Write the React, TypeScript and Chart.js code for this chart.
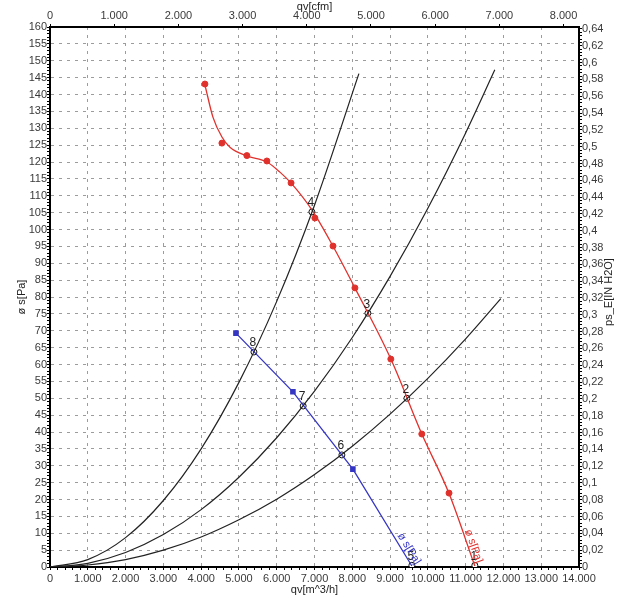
import React, { useEffect, useRef } from 'react';
import { Chart, registerables } from 'chart.js';

Chart.register(...registerables);

// ---------- axis ticks / labels ----------
const BOTTOM_TICKS = [0, 1000, 2000, 3000, 4000, 5000, 6000, 7000, 8000, 9000, 10000, 11000, 12000, 13000, 14000];
const BOTTOM_LABELS = ['0', '1.000', '2.000', '3.000', '4.000', '5.000', '6.000', '7.000', '8.000', '9.000', '10.000', '11.000', '12.000', '13.000', '14.000'];
const TOP_TICKS = [0, 1000, 2000, 3000, 4000, 5000, 6000, 7000, 8000];
const TOP_LABELS = ['0', '1.000', '2.000', '3.000', '4.000', '5.000', '6.000', '7.000', '8.000'];
const LEFT_TICKS = [0, 5, 10, 15, 20, 25, 30, 35, 40, 45, 50, 55, 60, 65, 70, 75, 80, 85, 90, 95, 100, 105, 110, 115, 120, 125, 130, 135, 140, 145, 150, 155, 160];
const RIGHT_LABELS = ['0', '0,02', '0,04', '0,06', '0,08', '0,1', '0,12', '0,14', '0,16', '0,18', '0,2', '0,22', '0,24', '0,26', '0,28', '0,3', '0,32', '0,34', '0,36', '0,38', '0,4', '0,42', '0,44', '0,46', '0,48', '0,5', '0,52', '0,54', '0,56', '0,58', '0,6', '0,62', '0,64'];

const M3H_PER_CFM = 1.699;
const PA_PER_INH2O = 249.089;
const Q_MAX = 14000;
const P_MAX = 160;

// ---------- fan curves ----------
const RED_CURVE_Q = [4101, 4312, 4550, 4762, 5212, 5741, 6085, 6376, 6931, 7487, 8069, 9021, 9841, 10556, 11243];
const RED_CURVE_P = [142.8, 133.3, 127.4, 124.4, 121.8, 120.0, 117.0, 113.8, 105.8, 95.1, 82.7, 61.6, 39.4, 21.9, 0.3];
const RED_MARK_Q = [4100, 4550, 5210, 5740, 6380, 7010, 7490, 8070, 9020, 9840, 10560];
const RED_MARK_P = [143.1, 125.6, 121.9, 120.3, 113.8, 103.4, 95.1, 82.7, 61.6, 39.4, 21.9];

const BLUE_Q = [4921, 6429, 8016, 9577];
const BLUE_P = [69.3, 51.9, 29.0, 0.3];

// ---------- system curves ----------
const SYS_A_Q = [0, 1000, 2000, 3000, 4000, 5000, 6000, 7000, 8175];
const SYS_A_P = [0, 2.2, 8.7, 19.7, 35.0, 54.7, 78.7, 107.2, 146.2];
const SYS_B_Q = [0, 1000, 2000, 3000, 4000, 5000, 6000, 7000, 8000, 9000, 10000, 11000, 11772];
const SYS_B_P = [0, 1.1, 4.3, 9.6, 17.0, 26.6, 38.3, 52.1, 68.0, 86.1, 106.3, 128.6, 147.3];
const SYS_C_Q = [0, 1000, 2000, 3000, 4000, 5000, 6000, 7000, 8000, 9000, 10000, 11000, 11931];
const SYS_C_P = [0, 0.6, 2.2, 5.0, 8.9, 14.0, 20.1, 27.4, 35.8, 45.3, 55.9, 67.6, 79.5];

// ---------- operating points ----------
const OP_LABELS = ['1', '2', '3', '4', '5', '6', '7', '8'];
const OP_Q = [11243, 9445, 8413, 6931, 9577, 7725, 6700, 5397];
const OP_P = [0.5, 50.0, 75.2, 105.2, 0.5, 33.2, 47.7, 63.7];

const RED = '#e0312c';
const BLUE = '#3636c4';
const FONT = '"Liberation Sans", Arial, sans-serif';

const pts = (q: number[], p: number[]) => q.map((v, i) => ({ x: v, y: p[i] }));

const overlayPlugin = {
  id: 'overlay',
  afterDatasetsDraw(chart: any) {
    const { ctx, chartArea, scales } = chart;
    const xs = scales.x;
    const ys = scales.y;
    ctx.save();
    // operating point numbers
    ctx.font = `12px ${FONT}`;
    ctx.fillStyle = '#222';
    ctx.textAlign = 'center';
    ctx.textBaseline = 'bottom';
    OP_LABELS.forEach((l, i) => {
      ctx.fillText(l, xs.getPixelForValue(OP_Q[i]) - 1, ys.getPixelForValue(OP_P[i]) - 3);
    });

    // labels along curves
    const along = (q: number[], p: number[], qa: number, pa: number, color: string, off: number) => {
      const n = q.length;
      const x1 = xs.getPixelForValue(q[n - 2]);
      const y1 = ys.getPixelForValue(p[n - 2]);
      const x2 = xs.getPixelForValue(q[n - 1]);
      const y2 = ys.getPixelForValue(p[n - 1]);
      const ang = Math.atan2(y2 - y1, x2 - x1);
      ctx.save();
      ctx.translate(xs.getPixelForValue(qa), ys.getPixelForValue(pa));
      ctx.rotate(ang);
      ctx.font = `11px ${FONT}`;
      ctx.fillStyle = color;
      ctx.textAlign = 'center';
      ctx.textBaseline = 'bottom';
      ctx.fillText('ø s[Pa]', 0, -off);
      ctx.restore();
    };
    along(BLUE_Q, BLUE_P, 9354, 4.4, BLUE, 1);
    along(RED_CURVE_Q, RED_CURVE_P, 11074, 5.6, RED, 0);

    // axis titles
    const cx = (chartArea.left + chartArea.right) / 2;
    const cy = (chartArea.top + chartArea.bottom) / 2;
    ctx.font = `11px ${FONT}`;
    ctx.fillStyle = '#222';
    ctx.textAlign = 'center';
    ctx.textBaseline = 'middle';
    ctx.fillText('qv[cfm]', cx, 7);
    ctx.fillText('qv[m^3/h]', cx, 590);
    ctx.save();
    ctx.translate(22, cy);
    ctx.rotate(-Math.PI / 2);
    ctx.fillText('ø s[Pa]', 0, 0);
    ctx.restore();
    ctx.save();
    ctx.translate(609, cy - 5);
    ctx.rotate(-Math.PI / 2);
    ctx.fillText('ps_E[IN H2O]', 0, 0);
    ctx.restore();
    ctx.restore();
  },
};

export default function App() {
  const ref = useRef<HTMLCanvasElement | null>(null);

  useEffect(() => {
    if (!ref.current) return;
    Chart.defaults.font.family = FONT;
    const GRID = '#9c9c9c';
    const tickFont = { size: 11, family: FONT };

    const chart = new Chart(ref.current, {
      type: 'scatter',
      data: {
        datasets: [
          { data: pts(SYS_A_Q, SYS_A_P), showLine: true, borderColor: '#222', borderWidth: 1.2, pointRadius: 0, cubicInterpolationMode: 'monotone', xAxisID: 'x', yAxisID: 'y' },
          { data: pts(SYS_B_Q, SYS_B_P), showLine: true, borderColor: '#222', borderWidth: 1.2, pointRadius: 0, cubicInterpolationMode: 'monotone', xAxisID: 'x', yAxisID: 'y' },
          { data: pts(SYS_C_Q, SYS_C_P), showLine: true, borderColor: '#222', borderWidth: 1.2, pointRadius: 0, cubicInterpolationMode: 'monotone', xAxisID: 'x', yAxisID: 'y' },
          { data: pts(RED_CURVE_Q, RED_CURVE_P), showLine: true, borderColor: RED, borderWidth: 1.3, pointRadius: 0, cubicInterpolationMode: 'monotone', xAxisID: 'x', yAxisID: 'y' },
          { data: pts(RED_MARK_Q, RED_MARK_P), showLine: false, pointStyle: 'circle', pointRadius: 3, backgroundColor: RED, borderColor: RED, borderWidth: 1, xAxisID: 'x', yAxisID: 'y' },
          { data: pts(BLUE_Q, BLUE_P), showLine: true, borderColor: BLUE, borderWidth: 1.3, tension: 0, pointStyle: 'rect', pointRadius: [3, 3, 3, 0], backgroundColor: BLUE, pointBorderColor: BLUE, xAxisID: 'x', yAxisID: 'y' },
          { data: pts(OP_Q, OP_P), showLine: false, pointStyle: 'circle', pointRadius: 3, backgroundColor: '#fff', borderColor: '#111', borderWidth: 1, xAxisID: 'x', yAxisID: 'y' },
        ],
      } as any,
      options: {
        animation: false,
        responsive: false,
        maintainAspectRatio: false,
        events: [],
        layout: { padding: 0 },
        plugins: { legend: { display: false }, tooltip: { enabled: false } },
        scales: {
          x: {
            type: 'linear',
            position: 'bottom',
            min: 0,
            max: Q_MAX,
            afterBuildTicks: (s: any) => {
              const t: any[] = [];
              for (let v = 0; v <= Q_MAX; v += 200) t.push({ value: v });
              s.ticks = t;
            },
            afterFit: (s: any) => { s.height = 33; },
            ticks: {
              autoSkip: false,
              maxRotation: 0,
              padding: 2,
              color: '#3a3a3a',
              font: tickFont,
              callback: (v: any) => {
                const i = BOTTOM_TICKS.indexOf(Number(v));
                return i >= 0 ? BOTTOM_LABELS[i] : '';
              },
            },
            grid: {
              color: (c: any) => {
                const v = c.tick ? c.tick.value : -1;
                return BOTTOM_TICKS.indexOf(v) > 0 && v < Q_MAX ? GRID : 'transparent';
              },
              lineWidth: 1,
              tickColor: '#000',
              tickLength: 3,
            },
            border: { display: true, color: '#000', width: 2, dash: [3, 5] },
          },
          x2: {
            type: 'linear',
            position: 'top',
            min: 0,
            max: Q_MAX / M3H_PER_CFM,
            afterBuildTicks: (s: any) => { s.ticks = TOP_TICKS.map((v) => ({ value: v })); },
            afterFit: (s: any) => { s.height = 27; },
            ticks: {
              autoSkip: false,
              maxRotation: 0,
              padding: 1,
              color: '#3a3a3a',
              font: tickFont,
              callback: (v: any) => {
                const i = TOP_TICKS.indexOf(Number(v));
                return i >= 0 ? TOP_LABELS[i] : '';
              },
            },
            grid: { drawOnChartArea: false, tickColor: '#000', tickLength: 3 },
            border: { display: true, color: '#000', width: 2 },
          },
          y: {
            type: 'linear',
            position: 'left',
            min: 0,
            max: P_MAX,
            afterBuildTicks: (s: any) => {
              const t: any[] = [];
              for (let v = 0; v <= P_MAX; v += 1) t.push({ value: v });
              s.ticks = t;
            },
            afterFit: (s: any) => { s.width = 50; },
            ticks: {
              autoSkip: false,
              padding: 0,
              color: '#3a3a3a',
              font: tickFont,
              callback: (v: any) => (LEFT_TICKS.indexOf(Number(v)) >= 0 ? String(v) : ''),
            },
            grid: {
              color: (c: any) => {
                const v = c.tick ? c.tick.value : -1;
                return LEFT_TICKS.indexOf(v) > 0 && v < P_MAX ? GRID : 'transparent';
              },
              lineWidth: 1,
              tickColor: '#000',
              tickLength: 3,
            },
            border: { display: true, color: '#000', width: 2, dash: [3, 5] },
          },
          y2: {
            type: 'linear',
            position: 'right',
            min: 0,
            max: P_MAX / PA_PER_INH2O,
            afterBuildTicks: (s: any) => {
              const t: any[] = [];
              for (let i = 0; i <= 160; i++) t.push({ value: i * 0.004 });
              s.ticks = t;
            },
            afterFit: (s: any) => { s.width = 43; },
            ticks: {
              autoSkip: false,
              padding: 0,
              color: '#3a3a3a',
              font: tickFont,
              callback: (_v: any, i: number) => (i % 5 === 0 ? RIGHT_LABELS[i / 5] : ''),
            },
            grid: { drawOnChartArea: false, tickColor: '#000', tickLength: 3 },
            border: { display: true, color: '#000', width: 2 },
          },
        },
      } as any,
      plugins: [overlayPlugin],
    });
    return () => chart.destroy();
  }, []);

  return (
    <div style={{ position: 'absolute', left: 0, top: 0, width: 622, height: 600, background: '#fff' }}>
      <canvas ref={ref} width={622} height={600} style={{ display: 'block', width: 622, height: 600 }} />
    </div>
  );
}
